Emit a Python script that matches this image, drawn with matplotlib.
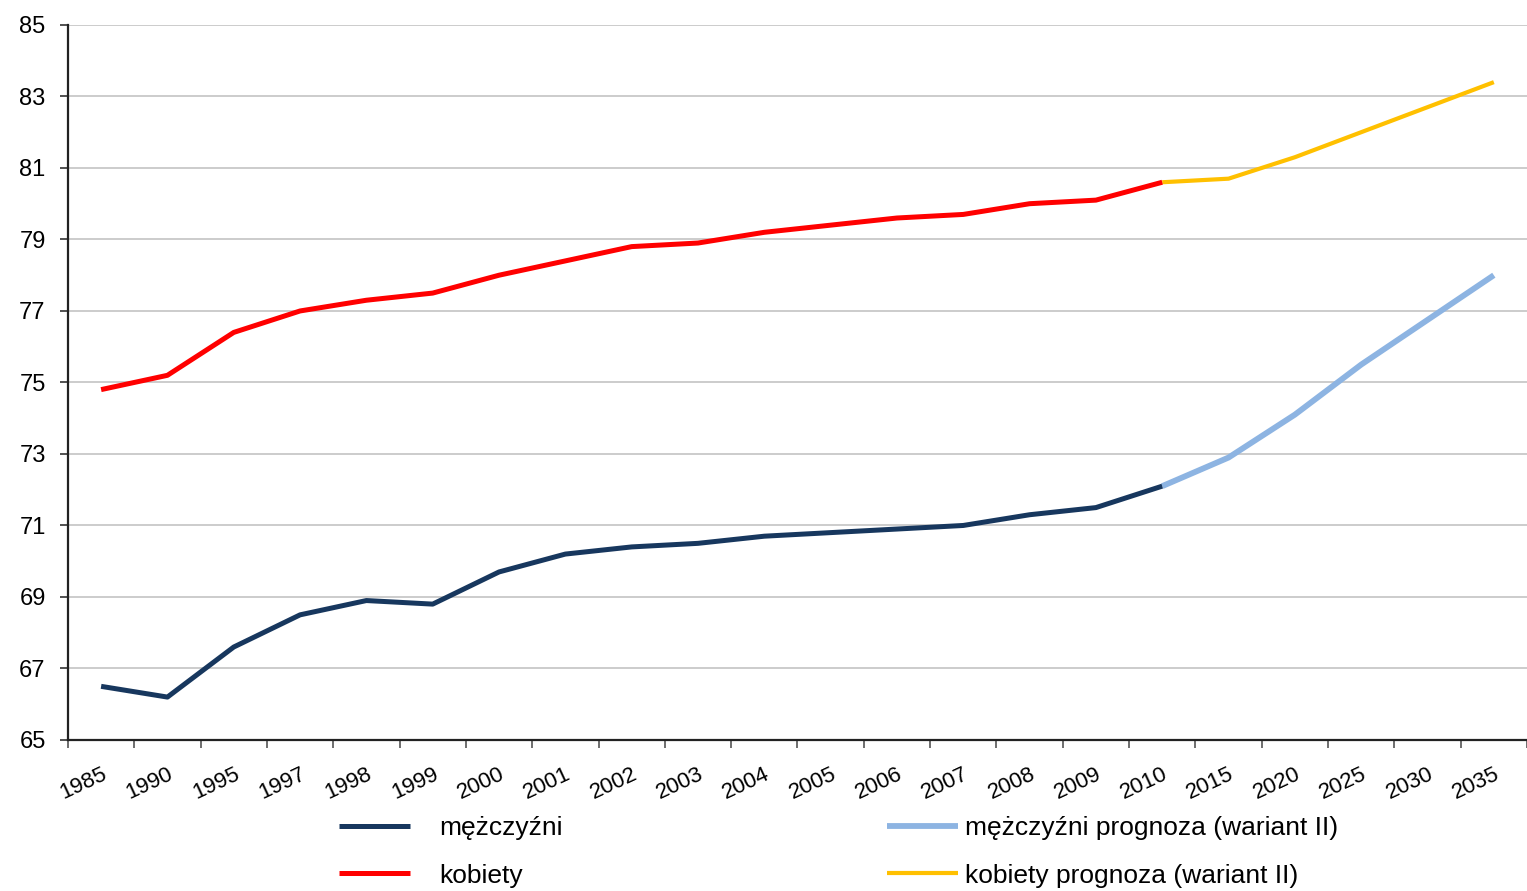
import matplotlib
matplotlib.use('Agg')
import matplotlib.pyplot as plt
import numpy as np

plt.rcParams['font.family'] = ['Liberation Sans', 'DejaVu Sans']

years = ['1985', '1990', '1995', '1997', '1998', '1999', '2000', '2001', '2002',
         '2003', '2004', '2005', '2006', '2007', '2008', '2009', '2010',
         '2015', '2020', '2025', '2030', '2035']

men = [66.5, 66.2, 67.6, 68.5, 68.9, 68.8, 69.7, 70.2, 70.4, 70.5, 70.7,
       70.8, 70.9, 71.0, 71.3, 71.5, 72.1]
women = [74.8, 75.2, 76.4, 77.0, 77.3, 77.5, 78.0, 78.4, 78.8, 78.9, 79.2,
         79.4, 79.6, 79.7, 80.0, 80.1, 80.6]

# forecast from 2010 onwards
men_fc = [72.1, 72.9, 74.1, 75.5, 76.75, 78.0]
women_fc = [80.6, 80.7, 81.3, 82.0, 82.7, 83.4]

x = np.arange(len(years))
x_hist = x[:len(men)]
x_fc = x[len(men) - 1:]

fig = plt.figure(figsize=(15.27, 8.91), dpi=100)
ax = fig.add_axes([0.0445, 0.1695, 0.9555, 0.8025])

ax.grid(axis='y', color='#c4c4c4', linewidth=1.2, zorder=0)
ax.set_axisbelow(True)

l_men, = ax.plot(x_hist, men, color='#17375e', linewidth=3.6, solid_capstyle='butt', zorder=3)
l_women, = ax.plot(x_hist, women, color='#ff0000', linewidth=3.6, solid_capstyle='butt', zorder=3)
l_men_fc, = ax.plot(x_fc, men_fc, color='#8db4e2', linewidth=4.2, solid_capstyle='butt', zorder=2)
l_women_fc, = ax.plot(x_fc, women_fc, color='#ffc000', linewidth=3.0, solid_capstyle='butt', zorder=2)

ax.set_xlim(-0.5, len(years) - 0.5)
ax.set_ylim(65, 85)
ax.set_yticks(np.arange(65, 86, 2))
ax.tick_params(axis='y', labelsize=17, length=6, width=1.2, color='#333333', pad=10)

ax.set_xticks(x)
ax.set_xticklabels(years, rotation=25, ha='right', va='top', rotation_mode='anchor')
ax.set_xticks(np.arange(-0.5, len(years), 1), minor=True)
ax.tick_params(axis='x', which='major', length=0, labelsize=16, pad=17)
ax.tick_params(axis='x', which='minor', length=6, width=1.2, color='#555555')

for s in ['top', 'right']:
    ax.spines[s].set_visible(False)
for s in ['left', 'bottom']:
    ax.spines[s].set_linewidth(1.6)
    ax.spines[s].set_color('#222222')

leg1 = fig.legend([l_men, l_women], ['mężczyźni', 'kobiety'], loc='center left',
                  bbox_to_anchor=(0.222, 0.044), frameon=False, fontsize=19,
                  handlelength=2.7, handletextpad=1.1, labelspacing=0.9,
                  borderpad=0, borderaxespad=0)
leg2 = fig.legend([l_men_fc, l_women_fc],
                  ['mężczyźni prognoza (wariant II)', 'kobiety prognoza (wariant II)'],
                  loc='center left', bbox_to_anchor=(0.581, 0.044), frameon=False,
                  fontsize=19, handlelength=2.7, handletextpad=0.25, labelspacing=0.9,
                  borderpad=0, borderaxespad=0)

fig.savefig('out.png', dpi=100)
